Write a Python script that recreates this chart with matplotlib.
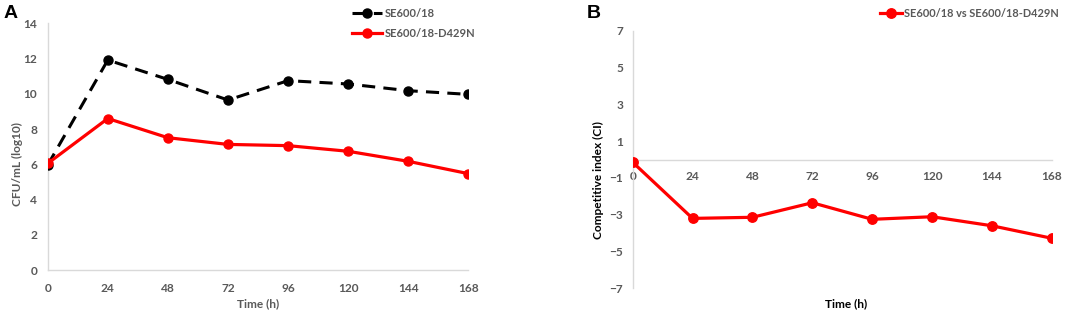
import matplotlib
matplotlib.use("Agg")
import matplotlib.pyplot as plt

plt.rcParams['font.family'] = ['Lato', 'DejaVu Sans']
plt.rcParams['font.weight'] = 'bold'

time_h = [0, 24, 48, 72, 96, 120, 144, 168]
se600 = [5.96, 11.92, 10.82, 9.65, 10.75, 10.56, 10.18, 9.97]
se600_d429n = [6.05, 8.6, 7.51, 7.13, 7.06, 6.74, 6.17, 5.47]
ci = [-0.15, -3.2, -3.14, -2.35, -3.25, -3.11, -3.6, -4.28]
yticks_a = [0, 2, 4, 6, 8, 10, 12, 14]
yticks_b = [-7, -5, -3, -1, 1, 3, 5, 7]

GRAY = '#595959'
SPINE = '#d9d9d9'
RED = '#ff0000'
TICK_FS = 8.6
LAB_FS = 8.6

fig = plt.figure(figsize=(10.72, 3.12), dpi=100)

# Panel A
axA = fig.add_axes([0.0445, 0.1346, 0.3924, 0.7904])
axA.plot(time_h, se600, color='black', linestyle=(0, (4.3, 2.7)), linewidth=2.2,
         marker='o', markersize=6.5, label='SE600/18', zorder=3)
axA.plot(time_h, se600_d429n, color=RED, linewidth=2.3,
         marker='o', markersize=6.5, label='SE600/18-D429N', zorder=4)
axA.set_xlim(0, 168)
axA.set_ylim(0, 14)
axA.set_xticks(time_h)
axA.set_yticks(yticks_a)
for s in ['top', 'right']:
    axA.spines[s].set_visible(False)
for s in ['left', 'bottom']:
    axA.spines[s].set_color(SPINE)
    axA.spines[s].set_linewidth(1.0)
axA.tick_params(length=0, labelsize=TICK_FS, labelcolor=GRAY)
axA.tick_params(axis='x', pad=9.0)
axA.tick_params(axis='y', pad=7.5)
axA.set_xlabel('Time (h)', color=GRAY, fontsize=LAB_FS, fontweight='bold', va='center')
axA.xaxis.set_label_coords(0.5, -0.136)
axA.set_ylabel('CFU/mL (log10)', color=GRAY, fontsize=LAB_FS, fontweight='bold', va='center')
axA.yaxis.set_label_coords(-0.073, 0.43)
axA.legend(loc='upper right', bbox_to_anchor=(0.448, 0.99), bbox_transform=fig.transFigure,
           frameon=False, fontsize=8.0, labelcolor=GRAY, handlelength=2.7,
           labelspacing=0.85, handletextpad=0.3, borderaxespad=0)
fig.text(0.003, 0.985, 'A', fontsize=14, fontweight='bold', family=['Liberation Sans', 'DejaVu Sans'],
         va='top', ha='left')

# Panel B
axB = fig.add_axes([0.5902, 0.0759, 0.3909, 0.8257])
axB.plot(time_h, ci, color=RED, linewidth=2.3, marker='o', markersize=6.8,
         label='SE600/18 vs SE600/18-D429N', zorder=4)
axB.set_xlim(0, 168)
axB.set_ylim(-7, 7)
axB.set_xticks(time_h)
axB.set_yticks(yticks_b)
for s in ['top', 'right']:
    axB.spines[s].set_visible(False)
axB.spines['bottom'].set_position(('data', 0))
for s in ['left', 'bottom']:
    axB.spines[s].set_color(SPINE)
    axB.spines[s].set_linewidth(1.0)
axB.tick_params(length=0, labelsize=TICK_FS, labelcolor=GRAY)
axB.tick_params(axis='x', pad=8.0)
axB.tick_params(axis='y', pad=7)
axB.set_xlabel('Time (h)', color='black', fontsize=LAB_FS, fontweight='bold', va='center')
axB.xaxis.set_label_coords(0.51, -0.061)
axB.set_ylabel('Competitive index (CI)', color='black', fontsize=LAB_FS, fontweight='bold', va='center')
axB.yaxis.set_label_coords(-0.082, 0.42)
axB.legend(loc='upper right', bbox_to_anchor=(0.992, 0.99), bbox_transform=fig.transFigure,
           frameon=False, fontsize=7.9, labelcolor=GRAY, handlelength=2.0,
           handletextpad=0.2, borderaxespad=0)
fig.text(0.547, 0.985, 'B', fontsize=14, fontweight='bold', family=['Liberation Sans', 'DejaVu Sans'],
         va='top', ha='left')

fig.savefig('out.png', dpi=100)
